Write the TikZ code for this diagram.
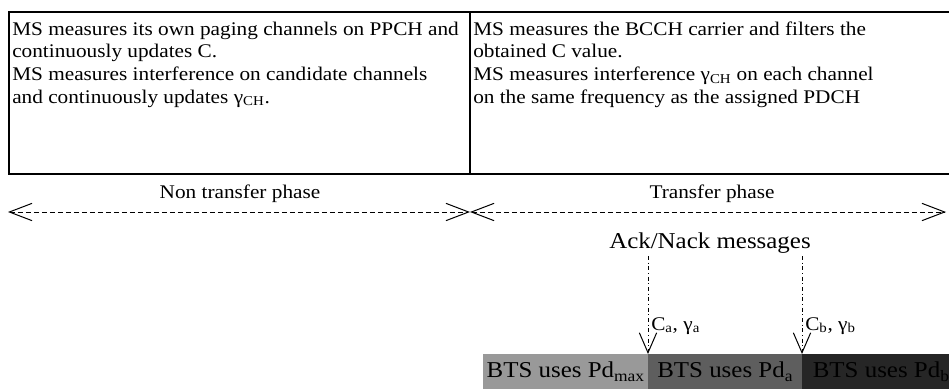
\documentclass[tikz,border=0pt]{standalone}
\usepackage{fontspec}
\setmainfont{Liberation Serif}[FakeStretch=1.1]
\usetikzlibrary{arrows.meta}

\definecolor{barlight}{gray}{0.6}
\definecolor{barmid}{gray}{0.37}
\definecolor{bardark}{gray}{0.15}

\begin{document}
\begin{tikzpicture}[x=0.75pt,y=-0.75pt,
  every node/.style={inner sep=0pt},
  cell/.style={anchor=base west,align=left,font=\fontsize{14.5}{17}\selectfont},
  lbl/.style={font=\fontsize{14.5}{17}\selectfont},
  phase/.style={line width=0.75pt,dash pattern=on 4pt off 2pt,
    {Straight Barb[length=17pt,width=13pt]}-{Straight Barb[length=17pt,width=13pt]}},
  ack/.style={line width=0.75pt,dash dot,-{Straight Barb[length=15pt,width=13pt]}},
  bar/.style={anchor=north west,minimum height=26.25pt,font=\fontsize{17}{20}\selectfont}]
  \useasboundingbox (0,0) rectangle (949,389);
  % table with the two phases (text anchored at its last line)
  \draw[line width=1.5pt] (9,12) rectangle (953,174);
  \draw[line width=1.5pt] (470,12) -- (470,174);
  \node[cell] (nontxt) at (12,103) {MS measures its own paging channels on PPCH and\\
    continuously updates C.\\
    MS measures interference on candidate channels\\
    and continuously updates γ\textsubscript{CH}.};
  \node[cell] (transtxt) at (473,103) {MS measures the BCCH carrier and filters the\\
    obtained C value.\\
    MS measures interference γ\textsubscript{CH} on each channel\\
    on the same frequency as the assigned PDCH};
  % phases
  \node[lbl,anchor=base] (nonlbl) at (240,198) {Non transfer phase};
  \node[lbl,anchor=base] (translbl) at (712,198) {Transfer phase};
  \coordinate (pl) at (8,212);
  \coordinate (pm) at (470,212);
  \coordinate (pr) at (946,212);
  \draw[phase] (pl) -- (pm);
  \draw[phase] (pm) -- (pr);
  % power levels
  \node[bar,fill=barlight,minimum width=123.75pt] (bmax) at (483,354) {BTS uses Pd\textsubscript{max}};
  \node[bar,fill=barmid,minimum width=115.5pt] (ba) at (648,354) {BTS uses Pd\textsubscript{a}};
  \node[bar,fill=bardark,minimum width=118.5pt] (bb) at (802,354) {BTS uses Pd\textsubscript{b}};
  % ack/nack
  \node[anchor=base,font=\fontsize{17}{20}\selectfont] (acklbl) at (710,248) {Ack/Nack messages};
  \coordinate (ta) at (648,256);
  \coordinate (tb) at (802,256);
  \draw[ack] (ta) -- (ba.north west);
  \draw[ack] (tb) -- (bb.north west);
  \node[lbl,anchor=base west] (mesa) at (651,330) {C\textsubscript{a}, γ\textsubscript{a}};
  \node[lbl,anchor=base west] (mesb) at (805,330) {C\textsubscript{b}, γ\textsubscript{b}};
\end{tikzpicture}
\end{document}
